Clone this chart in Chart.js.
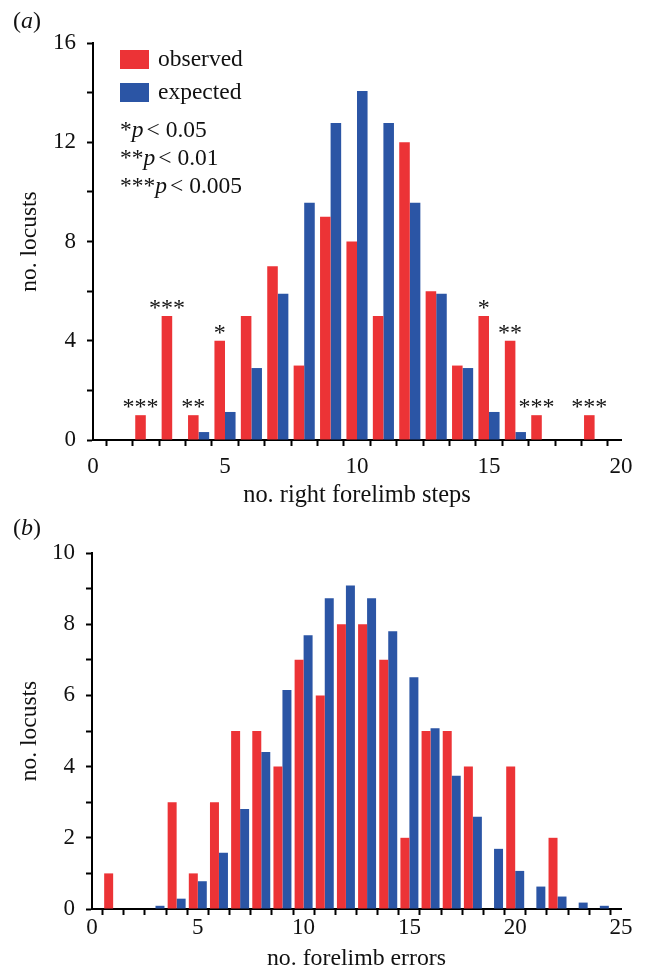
<!DOCTYPE html>
<html>
<head>
<meta charset="utf-8">
<script src="https://cdn.jsdelivr.net/npm/chart.js@4"></script>
<style>
  html, body { margin: 0; padding: 0; background: #fff; }
  .wrap { position: relative; width: 649px; }
  canvas { display: block; }
  .tag { position: absolute; left: 13px; font: 24px "Liberation Serif", serif; color: #111; }
</style>
</head>
<body>
<div class="wrap" style="height:512px">
  <span class="tag" style="top:7px">(<i>a</i>)</span>
  <canvas id="ca" width="649" height="512"></canvas>
</div>
<div class="wrap" style="height:459px">
  <span class="tag" style="top:2px">(<i>b</i>)</span>
  <canvas id="cb" width="649" height="459"></canvas>
</div>
<script>
// ---------- Panel (a): right forelimb steps ----------
const stepsA     = [1, 2, 3, 4, 5, 6, 7, 8, 9, 10, 11, 12, 13, 14, 15, 16, 17, 18, 19];
const observedA  = [0, 1, 5, 1, 4, 5, 7, 3, 9, 8, 5, 12, 6, 3, 5, 4, 1, 0, 1];
const expectedA  = [0, 0, 0, 0.32, 1.13, 2.9, 5.89, 9.56, 12.78, 14.07, 12.78, 9.56, 5.89, 2.9, 1.13, 0.32, 0, 0, 0];
const sigStepsA  = [2, 3, 4, 5, 15, 16, 17, 19];
const sigMarksA  = ['***', '***', '**', '*', '*', '**', '***', '***'];
const sigLegend  = [['*', '< 0.05'], ['**', '< 0.01'], ['***', '< 0.005']];

// ---------- Panel (b): forelimb errors ----------
const errorsB    = [1, 2, 3, 4, 5, 6, 7, 8, 9, 10, 11, 12, 13, 14, 15, 16, 17, 18, 19, 20, 21, 22, 23, 24];
const observedB  = [1, 0, 0, 3, 1, 3, 5, 5, 4, 7, 6, 8, 8, 7, 2, 5, 5, 4, 0, 4, 0, 2, 0, 0];
const expectedB  = [0, 0, 0.09, 0.29, 0.78, 1.58, 2.81, 4.41, 6.15, 7.69, 8.73, 9.09, 8.73, 7.8, 6.51, 5.08, 3.74, 2.59, 1.69, 1.07, 0.63, 0.35, 0.18, 0.09];

const RED = 'rgb(236,51,54)';
const BLUE = 'rgb(43,85,165)';
const FONT = '"Liberation Serif", "Times New Roman", serif';
const INK = '#111';

function pts(xs, ys) { return xs.map((x, i) => ({ x: x, y: ys[i] })); }

function makeOptions(cfg) {
  return {
    responsive: false,
    animation: false,
    events: [],
    layout: { padding: { top: cfg.top, right: 28, left: 0, bottom: 0 } },
    plugins: { legend: { display: false }, tooltip: { enabled: false } },
    datasets: { bar: { categoryPercentage: cfg.cat, barPercentage: 1.0, borderWidth: 0, grouped: true } },
    scales: {
      x: {
        type: 'linear', offset: false, min: 0, max: cfg.xMax,
        afterFit: s => { s.height = cfg.xH; },
        border: { display: true, color: '#000', width: 2 },
        grid: { display: true, drawOnChartArea: false, drawTicks: true, tickLength: 6, tickWidth: 2, tickColor: '#000' },
        ticks: {
          stepSize: 1, autoSkip: false, maxRotation: 0, padding: cfg.xPad, color: INK,
          font: { family: FONT, size: 23, lineHeight: 1 },
          callback: v => (v % 5 === 0 ? String(v) : '')
        },
        title: { display: true, text: cfg.xTitle, color: INK, font: { family: FONT, size: cfg.xTitleSize, lineHeight: 1 }, padding: { top: 0, bottom: cfg.xTitlePad } }
      },
      y: {
        min: 0, max: cfg.yMax,
        afterFit: s => { s.width = cfg.yW; },
        border: { display: true, color: '#000', width: 2 },
        grid: { display: true, drawOnChartArea: false, drawTicks: true, tickLength: 6, tickWidth: 2, tickColor: '#000' },
        ticks: {
          stepSize: cfg.yStep, padding: 11, color: INK,
          font: { family: FONT, size: 23, lineHeight: 1 },
          callback: v => (v % cfg.yLabelEvery === 0 ? String(v) : '')
        },
        title: { display: true, text: 'no. locusts', color: INK, font: { family: FONT, size: 23.5, lineHeight: 1 }, padding: { top: 18, bottom: 0 } }
      }
    }
  };
}

// Legend + significance annotations for panel (a)
const annotA = {
  id: 'annotA',
  afterDatasetsDraw(chart) {
    const ctx = chart.ctx;
    ctx.save();
    ctx.font = '23.5px ' + FONT;
    ctx.fillStyle = INK;
    // legend
    const ds = chart.data.datasets;
    const boxTops = [50, 83];
    ds.forEach((d, i) => {
      ctx.fillStyle = d.backgroundColor;
      ctx.fillRect(120, boxTops[i], 29, 19);
      ctx.fillStyle = INK;
      ctx.textBaseline = 'alphabetic';
      ctx.textAlign = 'left';
      ctx.fillText(d.label, 158, boxTops[i] + 16);
    });
    // significance key
    sigLegend.forEach((row, i) => {
      const y = 137 + i * 28;
      let x = 120;
      ctx.font = '23.5px ' + FONT;
      ctx.fillText(row[0], x, y); x += ctx.measureText(row[0]).width;
      ctx.font = 'italic 23.5px ' + FONT;
      ctx.fillText('p', x, y); x += ctx.measureText('p').width + 3;
      ctx.font = '23.5px ' + FONT;
      ctx.fillText(row[1], x, y);
    });
    // asterisks above observed bars
    const meta = chart.getDatasetMeta(0);
    ctx.font = '24px ' + FONT;
    ctx.textAlign = 'center';
    ctx.textBaseline = 'alphabetic';
    sigStepsA.forEach((s, k) => {
      const idx = stepsA.indexOf(s);
      const el = meta.data[idx];
      ctx.fillText(sigMarksA[k], el.x, el.y - 1);
    });
    ctx.restore();
  }
};

const whiteBg = {
  id: 'whiteBg',
  beforeDraw(chart) { const c = chart.ctx; c.save(); c.fillStyle = '#fff'; c.fillRect(0, 0, chart.width, chart.height); c.restore(); }
};

new Chart(document.getElementById('ca'), {
  type: 'bar',
  data: {
    datasets: [
      { label: 'observed', data: pts(stepsA, observedA), backgroundColor: RED },
      { label: 'expected', data: pts(stepsA, expectedA), backgroundColor: BLUE }
    ]
  },
  options: makeOptions({ top: 43, xMax: 20, xH: 72, yW: 93, yMax: 16, yStep: 2, yLabelEvery: 4, cat: 0.8,
                         xPad: 9, xTitle: 'no. right forelimb steps', xTitleSize: 24.4, xTitlePad: 4 }),
  plugins: [whiteBg, annotA]
});

new Chart(document.getElementById('cb'), {
  type: 'bar',
  data: {
    datasets: [
      { label: 'observed', data: pts(errorsB, observedB), backgroundColor: RED },
      { label: 'expected', data: pts(errorsB, expectedB), backgroundColor: BLUE }
    ]
  },
  options: makeOptions({ top: 41, xMax: 25, xH: 62, yW: 92, yMax: 10, yStep: 1, yLabelEvery: 2, cat: 0.85,
                         xPad: 1, xTitle: 'no. forelimb errors', xTitleSize: 23.8, xTitlePad: 0 }),
  plugins: [whiteBg]
});
</script>
</body>
</html>
